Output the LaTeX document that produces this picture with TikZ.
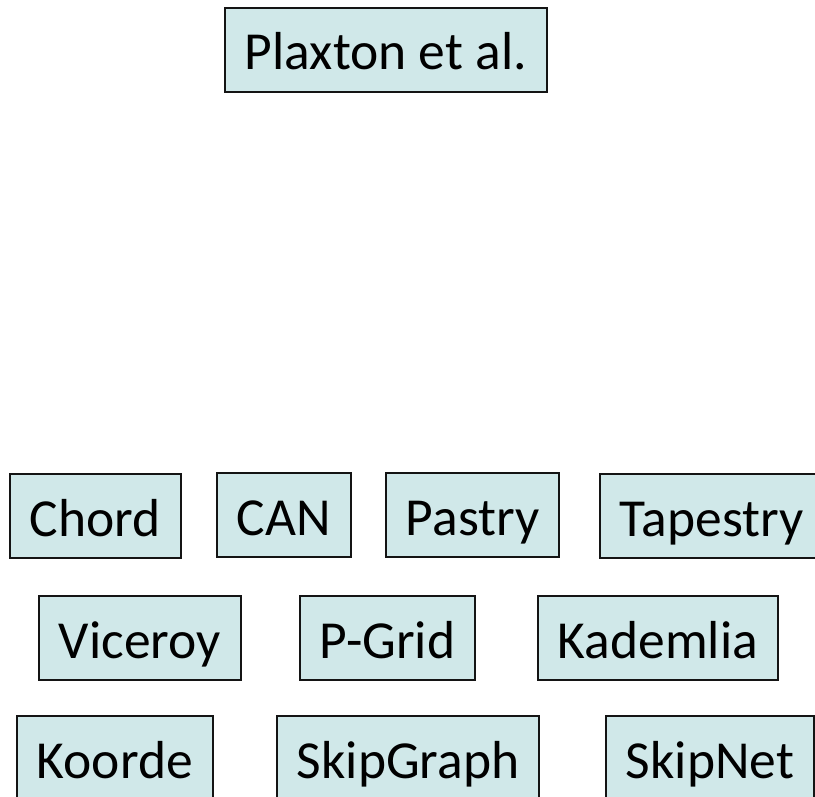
\documentclass[tikz,border=0pt]{standalone}
\usepackage{fontspec}
\setmainfont{Carlito}
\definecolor{BoxFill}{RGB}{208,232,233}
\definecolor{BoxLine}{RGB}{20,20,20}
\usepackage{tikz}
\usetikzlibrary{positioning}
\tikzset{
  dhtbox/.style={draw=BoxLine, line width=1.8pt, fill=BoxFill, anchor=west,
    inner xsep=20pt, inner ysep=0pt, minimum height=84pt,
    text height=52pt, text depth=12pt,
    font=\fontsize{53.5}{64}\selectfont}
}

\begin{document}
\begin{tikzpicture}[x=1pt, y=-1pt]
          \useasboundingbox (0,0) rectangle (815,797);
          % top
          \node[dhtbox] (plaxton) at (224,50) {Plaxton et al.};
          % first row
          \node[dhtbox] (chord) at (9,516) {Chord};
          \node[dhtbox] (can) at (216,515) {CAN};
          \node[dhtbox] (pastry) at (385,515) {Pastry};
          \node[dhtbox] (tapestry) at (599,516) {Tapestry};
          % second row
          \node[dhtbox] (viceroy) at (38,638) {Viceroy};
          \node[dhtbox] (pgrid) at (299,638) {P-Grid};
          \node[dhtbox] (kademlia) at (537,638) {Kademlia};
          % third row
          \node[dhtbox] (koorde) at (16,758) {Koorde};
          \node[dhtbox] (skipgraph) at (276,758) {SkipGraph};
          \node[dhtbox] (skipnet) at (605,758) {SkipNet};
        \end{tikzpicture}
\end{document}
